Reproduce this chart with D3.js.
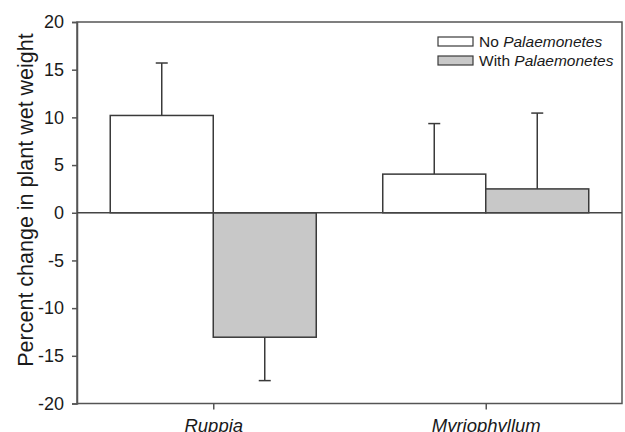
<!DOCTYPE html>
<html><head><meta charset="utf-8">
<script src="https://cdn.jsdelivr.net/npm/d3@7"></script>
<style>body{margin:0;background:#fff}svg{display:block}text{font-family:"Liberation Sans",Arial,sans-serif;fill:#1a1a1a}</style>
</head><body>
<script>
const categories = ["Ruppia", "Myriophyllum"];
const seriesNames = ["No Palaemonetes", "With Palaemonetes"];
const noPalaemonetes = [10.2, 4.05];
const withPalaemonetes = [-13.05, 2.5];
const noPalaemonetesErr = [5.5, 5.3];
const withPalaemonetesErr = [4.55, 7.95];
const yTicks = [-20, -15, -10, -5, 0, 5, 10, 15, 20];

const W = 625, H = 432;
const m = {left: 77, right: 3, top: 22, bottom: 28.5};
const svg = d3.select("body").append("svg").attr("width", W).attr("height", H);
const x = d3.scalePoint().domain(categories).range([m.left, W - m.right]).padding(0.5);
const y = d3.scaleLinear().domain([-20, 20]).range([H - m.bottom, m.top]);
const bw = x.step() * 0.378;
const stroke = "#3a3a3a";

// frame
svg.append("rect").attr("x", m.left).attr("y", m.top)
  .attr("width", W - m.right - m.left).attr("height", H - m.bottom - m.top)
  .attr("fill", "none").attr("stroke", "#555").attr("stroke-width", 1.5);

// y axis
const ya = svg.append("g").attr("transform", `translate(${m.left},0)`)
  .call(d3.axisLeft(y).tickValues(yTicks).tickSize(5).tickPadding(8).tickFormat(d => String(d)));
ya.select(".domain").attr("stroke", "#555").attr("stroke-width", 1.5);
ya.selectAll(".tick line").attr("stroke", "#555").attr("stroke-width", 1.5);
ya.selectAll("text").style("font-size", "18px").attr("fill", "#1a1a1a");

// x axis
const xa = svg.append("g").attr("transform", `translate(0,${H - m.bottom})`)
  .call(d3.axisBottom(x).tickSize(6).tickPadding(9));
xa.select(".domain").remove();
xa.selectAll(".tick line").attr("stroke", "#555").attr("stroke-width", 1.5);
xa.selectAll("text").style("font-size", "18.5px").style("font-style", "italic").attr("fill", "#1a1a1a");

// y label
svg.append("text").attr("transform", `translate(33,200) rotate(-90)`)
  .attr("text-anchor", "middle").style("font-size", "21.5px").text("Percent change in plant wet weight");

const data = [];
categories.forEach((c, i) => {
  data.push({c, s: 0, v: noPalaemonetes[i], e: noPalaemonetesErr[i]});
  data.push({c, s: 1, v: withPalaemonetes[i], e: withPalaemonetesErr[i]});
});
const fills = ["#ffffff", "#c8c8c8"];
const bx = d => x(d.c) + (d.s === 0 ? -bw : 0);

// error bars
const eg = svg.append("g").attr("stroke", stroke).attr("stroke-width", 1.5);
data.forEach(d => {
  const cx = bx(d) + bw / 2;
  const end = d.v >= 0 ? d.v + d.e : d.v - d.e;
  eg.append("line").attr("x1", cx).attr("x2", cx).attr("y1", y(d.v)).attr("y2", y(end));
  eg.append("line").attr("x1", cx - 6).attr("x2", cx + 6).attr("y1", y(end)).attr("y2", y(end));
});

// bars
svg.append("g").selectAll("rect").data(data).join("rect")
  .attr("x", bx).attr("width", bw)
  .attr("y", d => y(Math.max(0, d.v))).attr("height", d => Math.abs(y(d.v) - y(0)))
  .attr("fill", d => fills[d.s]).attr("stroke", stroke).attr("stroke-width", 1.5);

// zero line
svg.append("line").attr("x1", m.left).attr("x2", W - m.right).attr("y1", y(0)).attr("y2", y(0))
  .attr("stroke", "#444").attr("stroke-width", 1.5);

// legend
const lg = svg.append("g");
seriesNames.forEach((n, i) => {
  const yy = 37 + i * 19;
  lg.append("rect").attr("x", 438).attr("y", yy).attr("width", 35).attr("height", 9)
    .attr("fill", fills[i]).attr("stroke", stroke).attr("stroke-width", 1.2);
  const [a, b] = n.split(" ");
  const t = lg.append("text").attr("x", 479).attr("y", yy + 9.5).style("font-size", "15.5px");
  t.append("tspan").text(a + " ");
  t.append("tspan").style("font-style", "italic").text(b);
});
</script>
</body></html>
